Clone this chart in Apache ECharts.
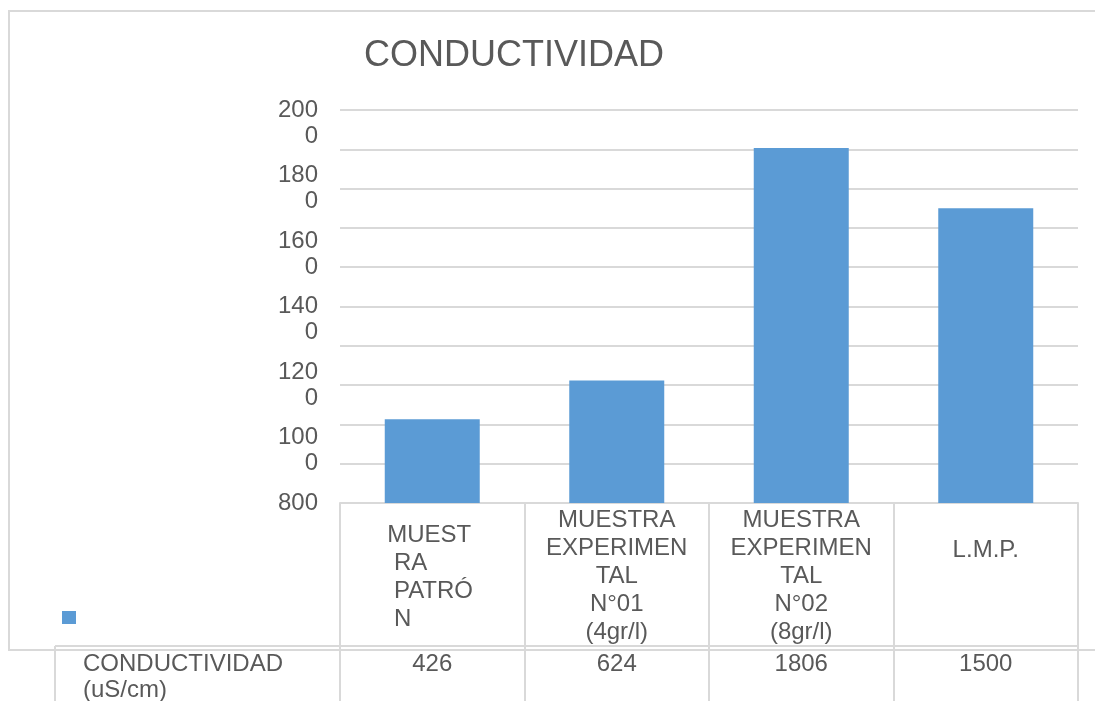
<!DOCTYPE html>
<html>
<head>
<meta charset="utf-8">
<script src="https://cdn.jsdelivr.net/npm/echarts@6/dist/echarts.min.js"></script>
<style>
  html, body { margin: 0; padding: 0; background: #ffffff; }
  #chart { width: 1095px; height: 701px; }
</style>
</head>
<body>
<div id="chart"></div>
<script>
// Chart text and data
const chartTitle = 'CONDUCTIVIDAD';
const seriesName = 'CONDUCTIVIDAD (uS/cm)';
const categories = [
  'MUEST\n RA\n PATRÓ\n N',
  'MUESTRA\nEXPERIMEN\nTAL\nN°01\n(4gr/l)',
  'MUESTRA\nEXPERIMEN\nTAL\nN°02\n(8gr/l)',
  'L.M.P.'
];
const conductivity = [426, 624, 1806, 1500];
const yTickValues = [800, 1000, 1200, 1400, 1600, 1800, 2000];
const yTickLabels = ['800', '100\n0', '120\n0', '140\n0', '160\n0', '180\n0', '200\n0'];

const FONT = 'Liberation Sans, Arial, sans-serif';
const TEXT = '#595959';
const LINE = '#d9d9d9';
const BAR = '#5b9bd5';

// extra top padding of each header cell in the data table
const headerPadTop = [15, 0, 0, 30];

const chart = echarts.init(document.getElementById('chart'), null, { renderer: 'canvas' });

chart.setOption({
  animation: false,
  backgroundColor: '#ffffff',
  title: {
    text: chartTitle,
    left: 364,
    top: 36,
    padding: 0,
    textStyle: { fontFamily: FONT, fontSize: 36, fontWeight: 'normal', color: TEXT, lineHeight: 40 }
  },
  legend: {
    data: [seriesName],
    left: 62,
    top: 611,
    padding: 0,
    icon: 'rect',
    itemWidth: 14,
    itemHeight: 13,
    selectedMode: false,
    formatter: () => '',
    textStyle: { fontSize: 1 }
  },
  grid: {
    left: 340,
    right: 17,
    top: 110,
    bottom: 198,
    containLabel: false,
    outerBoundsMode: 'none'
  },
  xAxis: [
    {
      type: 'category',
      position: 'bottom',
      data: categories.map((c, i) => ({ value: c, textStyle: { padding: [headerPadTop[i], 0, 0, 0] } })),
      axisLine: { show: true, onZero: false, lineStyle: { color: LINE, width: 2 } },
      axisTick: { show: true, inside: false, length: 200, lineStyle: { color: LINE, width: 2 } },
      splitLine: { show: false },
      axisLabel: {
        interval: 0,
        margin: 3,
        verticalAlign: 'top',
        fontFamily: FONT,
        fontSize: 24,
        lineHeight: 28,
        color: TEXT,
        formatter: (value) => value.indexOf('\n ') >= 0
          ? value.split('\n').map(l => '{l|' + l + '}').join('\n')
          : value,
        rich: {
          l: { width: 90, align: 'left', fontFamily: FONT, fontSize: 24, lineHeight: 28, color: TEXT }
        }
      }
    },
    {
      // value row of the data table
      type: 'category',
      position: 'bottom',
      data: categories,
      axisLine: { show: false, onZero: false },
      axisTick: { show: false },
      splitLine: { show: false },
      axisLabel: {
        interval: 0,
        margin: 147,
        verticalAlign: 'top',
        fontFamily: FONT,
        fontSize: 24,
        lineHeight: 28,
        color: TEXT,
        formatter: (value, index) => String(conductivity[index])
      }
    }
  ],
  yAxis: [
    {
      type: 'value',
      position: 'left',
      min: 0,
      max: 2000,
      interval: 200,
      axisLine: { show: false },
      axisTick: { show: false },
      axisLabel: { show: false },
      splitLine: { show: true, lineStyle: { color: LINE, width: 2 } }
    },
    {
      // tick labels of the value axis; the first line of each label sits on its tick
      type: 'value',
      position: 'left',
      min: 800,
      max: 2000,
      interval: 200,
      axisLine: { show: false },
      axisTick: { show: false },
      splitLine: { show: false },
      axisLabel: {
        margin: 22,
        showMinLabel: true,
        showMaxLabel: true,
        hideOverlap: false,
        verticalAlign: 'top',
        padding: [-13, 0, 0, 0],
        fontFamily: FONT,
        fontSize: 24,
        lineHeight: 26,
        color: TEXT,
        formatter: (v) => {
          const t = yTickLabels[yTickValues.indexOf(v)];
          return t === undefined ? '' : t;
        }
      }
    }
  ],
  series: [
    {
      name: seriesName,
      type: 'bar',
      xAxisIndex: 0,
      yAxisIndex: 0,
      data: conductivity,
      barWidth: 95,
      itemStyle: { color: BAR },
      emphasis: { disabled: true }
    }
  ],
  graphic: [
    {
      type: 'rect',
      silent: true,
      shape: { x: 9, y: 11, width: 1200, height: 639 },
      style: { fill: 'none', stroke: LINE, lineWidth: 2 }
    },
    {
      type: 'line',
      silent: true,
      shape: { x1: 55, y1: 646, x2: 1078, y2: 646 },
      style: { stroke: LINE, lineWidth: 2 }
    },
    {
      type: 'line',
      silent: true,
      shape: { x1: 55, y1: 646, x2: 55, y2: 705 },
      style: { stroke: LINE, lineWidth: 2 }
    },
    {
      type: 'text',
      silent: true,
      x: 83,
      y: 651,
      style: {
        text: seriesName.replace(' ', '\n'),
        font: '24px ' + FONT,
        fill: TEXT,
        lineHeight: 26,
        verticalAlign: 'top'
      }
    }
  ]
});
</script>
</body>
</html>
